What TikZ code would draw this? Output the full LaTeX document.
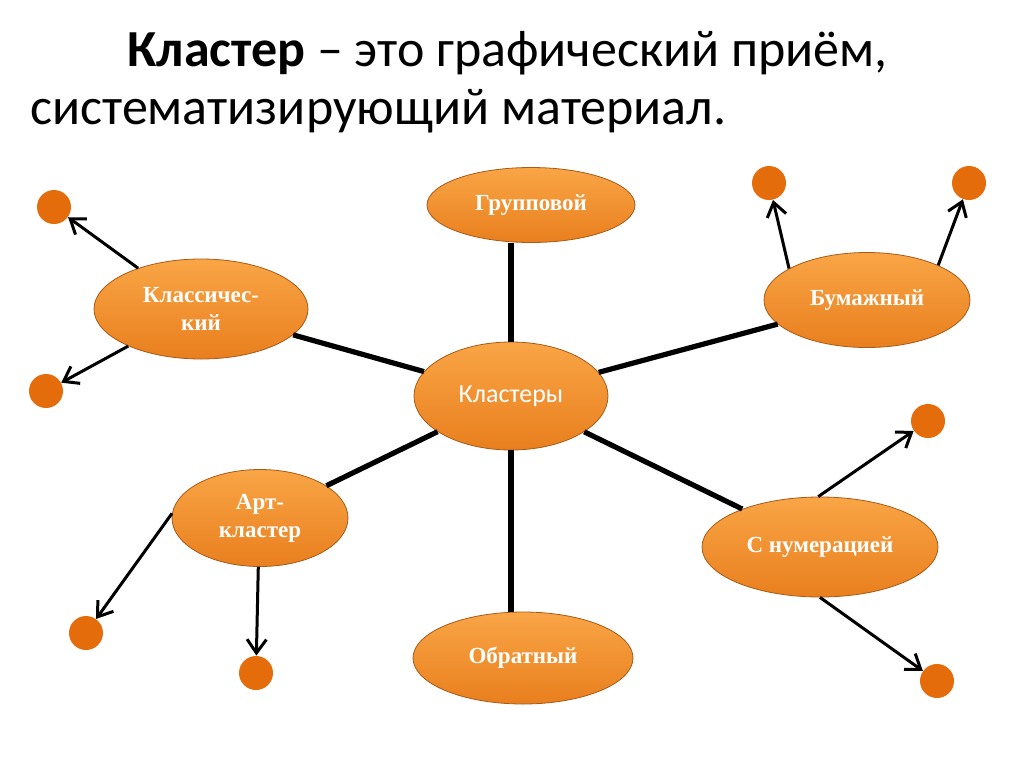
\documentclass[tikz,border=0pt]{standalone}
\usepackage{fontspec}
\setmainfont{Liberation Serif}
\newfontfamily\calib{Carlito}
\usepackage{xcolor}
\usepackage{tikz}
\usetikzlibrary{arrows.meta,shapes.geometric}
\definecolor{ovtop}{HTML}{F9A546}
\definecolor{ovbot}{HTML}{E97F1E}
\definecolor{ovrim}{HTML}{A85A18}
\definecolor{dotc}{HTML}{E46C0A}
\tikzset{
  ov/.style={ellipse,draw=ovrim,thin,top color=ovtop,bottom color=ovbot,inner sep=0pt,align=center,text=white,font=\fontsize{11.5}{14}\selectfont\bfseries},
  dt/.style={circle,fill=dotc,minimum size=17pt,inner sep=0pt},
  spoke/.style={line width=2.6pt,black},
  ar/.style={-{Straight Barb[length=2.4mm,width=3.4mm]},line width=1.5pt,black}
}
\begin{document}
\begin{tikzpicture}[x=0.5pt,y=-0.5pt]
\useasboundingbox (0,0) rectangle (1024,767);
% title
\node[anchor=base west,inner sep=0pt,font=\calib\fontsize{26}{28}\selectfont] (title1) at (127,66) {\textbf{Кластер} – это графический приём,};
\node[anchor=base west,inner sep=0pt,font=\calib\fontsize{26}{28}\selectfont] (title2) at (30,124) {систематизирующий материал.};
% ovals
\node[ov,minimum width=97pt,minimum height=54pt,font=\calib\fontsize{13}{15}\selectfont] (klast) at (511,396) {Кластеры};
\node[ov,minimum width=104pt,minimum height=37.5pt] (grup) at (531,205) {Групповой};
\node[ov,minimum width=107pt,minimum height=50pt] (klass) at (201,309) {Классичес-\\кий};
\node[ov,minimum width=103pt,minimum height=47.5pt] (bum) at (867,300) {Бумажный};
\node[ov,minimum width=88pt,minimum height=48.5pt] (art) at (260,518) {Арт-\\кластер};
\node[ov,minimum width=118pt,minimum height=50pt] (num) at (820,547) {С нумерацией};
\node[ov,minimum width=110pt,minimum height=46pt] (obr) at (523,658) {Обратный};
% dots
\node[dt] (d1) at (54,207) {};
\node[dt] (d2) at (46,391) {};
\node[dt] (d3) at (769,183) {};
\node[dt] (d4) at (969,183) {};
\node[dt] (d5) at (928,421) {};
\node[dt] (d6) at (937,681) {};
\node[dt] (d7) at (86,633) {};
\node[dt] (d8) at (256,673) {};
% spokes
\draw[spoke] (klast) -- (klast |- grup.south);
\draw[spoke] (klast) -- (klast |- obr.north);
\draw[spoke] (klast) -- (klass);
\draw[spoke] (klast) -- (bum);
\draw[spoke] (klast) -- (art);
\draw[spoke] (klast) -- (num);
% arrows
\draw[ar] (klass.147) -- (d1);
\draw[ar] (klass.207) -- (d2);
\draw[ar] (bum.158) -- (d3);
\draw[ar] (bum.26) -- (d4);
\draw[ar] (num.92) -- (d5);
\draw[ar] (num.270) -- (d6);
\draw[ar] (art.177) -- (d7);
\draw[ar] (art.268) -- (d8);
\end{tikzpicture}
\end{document}
